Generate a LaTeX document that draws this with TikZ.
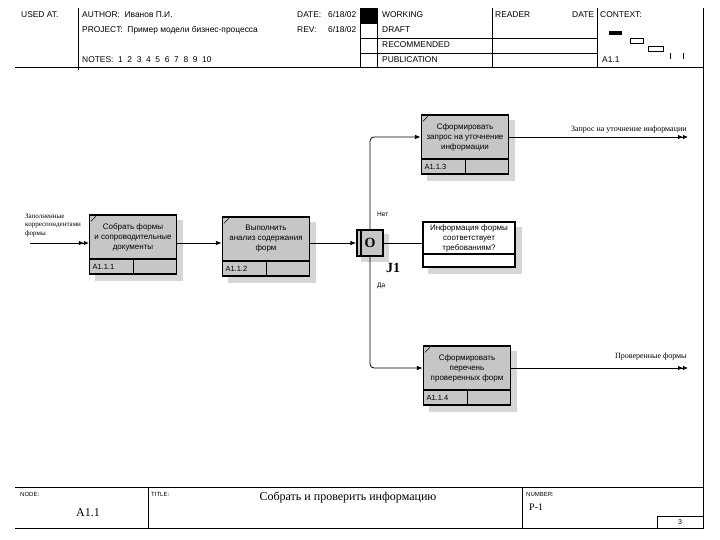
\documentclass[tikz,border=0pt]{standalone}
\usepackage{fontspec}
\setmainfont{Liberation Serif}
\setsansfont{Liberation Sans}
\usepackage{tikz}
\usetikzlibrary{arrows.meta,positioning,backgrounds,calc}
\definecolor{boxc}{RGB}{198,198,198}
\definecolor{shadc}{RGB}{214,214,214}

\begin{document}
\begin{tikzpicture}[x=1pt,y=-1pt,
  hdr/.style={font=\sffamily\fontsize{8.4}{9}\selectfont, anchor=base west, inner sep=0pt},
  act/.style={draw, line width=1.3pt, fill=boxc, minimum width=87pt, minimum height=44pt, inner sep=0pt, align=center, font=\sffamily\fontsize{8}{10}\selectfont},
  actno/.style={draw, line width=1.3pt, fill=boxc, minimum width=87pt, minimum height=15pt, inner sep=0pt, text width=81pt, align=left,
    font=\sffamily\fontsize{7.5}{8}\selectfont, below=-1.3pt of #1,
    path picture={\draw[line width=.8pt] (path picture bounding box.north) -- (path picture bounding box.south);}},
  jn/.style={draw, line width=1.3pt, fill=boxc, minimum width=26pt, minimum height=26pt, inner sep=0pt, font=\bfseries\fontsize{14}{14}\selectfont,
    path picture={\draw[line width=1.3pt] ([xshift=4pt]path picture bounding box.north west) -- ([xshift=4pt]path picture bounding box.south west);}},
  refbox/.style={draw, line width=1.3pt, fill=white, minimum width=92pt, minimum height=32pt, inner sep=0pt, align=center, font=\sffamily\fontsize{8}{10}\selectfont},
  arr/.style={-{Latex[length=6pt,width=4.5pt]}, line width=.8pt},
  dblarr/.style={-{Latex[length=5pt,width=4.5pt]Latex[length=5pt,width=4.5pt]}, line width=.8pt},
  lbl/.style={font=\fontsize{8}{9}\selectfont, inner sep=1pt},
  small/.style={font=\sffamily\fontsize{6.5}{8}\selectfont, inner sep=0pt},
  foot/.style={font=\sffamily\fontsize{6}{7}\selectfont, anchor=base west, inner sep=0pt}]
  \useasboundingbox (0,0) rectangle (720,540);

  % header
  \draw[line width=.7pt] (78,8) -- (78,70) (360,8) -- (360,68) (377,8) -- (377,68) (492,8) -- (492,68) (597,8) -- (597,68);
  \draw[line width=.7pt] (360,23) -- (377,23) (360,38) -- (597,38) (360,53) -- (597,53);
  \draw[line width=1pt] (15,68) -- (703,68) (703,8) -- (703,528);
  \fill (360,8) rectangle (377,23);
  \node[hdr] (usedat) at (21,18) {USED AT.};
  \node[hdr] (author) at (82,18) {AUTHOR:\ \ Иванов П.И.};
  \node[hdr] (project) at (82,33) {PROJECT:\ \ Пример модели бизнес-процесса};
  \node[hdr] (notes) at (82,63) {NOTES:\ \ 1~~2~~3~~4~~5~~6~~7~~8~~9~~10};
  \node[hdr] (date) at (297,18) {DATE:};
  \node[hdr] (dateval) at (328,18) {6/18/02};
  \node[hdr] (rev) at (297,33) {REV:};
  \node[hdr] (revval) at (328,33) {6/18/02};
  \node[hdr] (working) at (382,18) {WORKING};
  \node[hdr] (draft) at (382,33) {DRAFT};
  \node[hdr] (recom) at (382,48) {RECOMMENDED};
  \node[hdr] (publ) at (382,63) {PUBLICATION};
  \node[hdr] (reader) at (495,18) {READER};
  \node[hdr] (rdate) at (572,18) {DATE};
  \node[hdr] (context) at (600,18) {CONTEXT:};
  \node[hdr] (ctxnode) at (602,63) {A1.1};
  \fill (609,31) rectangle (622,35);
  \draw[line width=.6pt] (630,38) rectangle (643,43) (648,46) rectangle (663,51) (670,53) -- (670,59) (683,53) -- (683,59);

  % activities
  \node[act] (a1) at (133,237) {Собрать формы\\и сопроводительные\\документы};
  \node[actno=a1] (a1-no) {A1.1.1};
  \node[act] (a2) at (266,239) {Выполнить\\анализ содержания\\форм};
  \node[actno=a2] (a2-no) {A1.1.2};
  \node[act] (a3) at (465,137) {Сформировать\\запрос на уточнение\\информации};
  \node[actno=a3] (a3-no) {A1.1.3};
  \node[act] (a4) at (467,368) {Сформировать\\перечень\\проверенных форм};
  \node[actno=a4] (a4-no) {A1.1.4};
  \foreach \b in {a1,a2,a3,a4}
    \draw[line width=.6pt] ([shift={(2pt,-7pt)}]\b.north west) -- ([shift={(7pt,-2pt)}]\b.north west);

  % junction and referent
  \node[jn] (j1) at (370,243) {O};
  \node[font=\bfseries\fontsize{14}{14}\selectfont, inner sep=0pt] (j1lbl) at (393,268) {J1};
  \node[refbox] (ref) at (469,238) {Информация формы\\соответствует\\требованиям?};
  \node[refbox, minimum height=13pt, below=-1.3pt of ref] (ref-no) {};
  \node[small, anchor=west] (no) at (377,214) {Нет};
  \node[small, anchor=west] (yes) at (377,286) {Да};

  \begin{scope}[on background layer]
    \foreach \b in {a1,a2,a3,a4,ref}
      \fill[shadc] ([shift={(6pt,-6pt)}]\b.north west) rectangle ([shift={(6pt,-6pt)}]\b-no.south east);
    \fill[shadc] ([shift={(5pt,-5pt)}]j1.north west) rectangle ([shift={(5pt,-5pt)}]j1.south east);
  \end{scope}

  % arrows
  \coordinate (in1) at (30,243);
  \coordinate (out1) at (688,137);
  \coordinate (out2) at (688,368);
  \draw[dblarr] (in1) -- (in1 -| a1.west);
  \node[font=\fontsize{7}{8.5}\selectfont, align=left, anchor=south west, inner sep=0pt] (inlbl) at (25,237) {Заполненные\\корреспондентами\\формы};
  \draw[arr] (a1.east |- j1) -- (a2.west |- j1);
  \draw[arr] (a2.east |- j1) -- (j1.west);
  \draw[line width=.8pt] (j1.east) -- (ref.west |- j1);
  \draw[arr, rounded corners=4pt] (j1.north) |- (a3.west);
  \draw[arr, rounded corners=4pt] (j1.south) |- (a4.west);
  \draw[dblarr] (a3.east) -- (out1) node[lbl, pos=1, anchor=south east, yshift=2pt] (l3) {Запрос на уточнение информации};
  \draw[dblarr] (a4.east) -- (out2) node[lbl, pos=1, anchor=south east, yshift=6pt] (l4) {Проверенные формы};

  % footer
  \draw[line width=1pt] (15,487) -- (703,487) (15,528) -- (703,528);
  \draw[line width=.7pt] (148,487) -- (148,528) (522,487) -- (522,528) (657,516) rectangle (703,528);
  \node[foot] (node) at (20,496) {NODE:};
  \node[foot] (title) at (151,496) {TITLE:};
  \node[foot] (number) at (526,496) {NUMBER:};
  \node[font=\fontsize{12}{12}\selectfont, inner sep=0pt] (nodeval) at (88,513) {A1.1};
  \node[font=\fontsize{12}{12}\selectfont, inner sep=0pt] (titleval) at (348,497) {Собрать и проверить информацию};
  \node[font=\fontsize{10}{10}\selectfont, anchor=west, inner sep=0pt] (numval) at (529,507) {P-1};
  \node[font=\sffamily\fontsize{7}{7}\selectfont, inner sep=0pt] (page) at (680,522) {3};
\end{tikzpicture}
\end{document}
